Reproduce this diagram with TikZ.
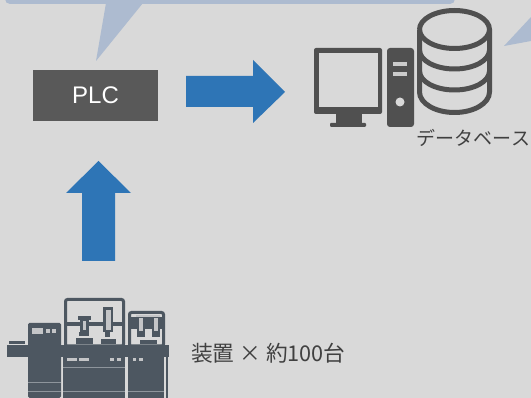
\documentclass[tikz,border=0pt]{standalone}
\usepackage{fontspec}
\setmainfont{Liberation Sans}
\newfontfamily\jpfont{Noto Sans CJK JP}
\definecolor{bgc}{HTML}{D9D9D9}
\definecolor{callout}{HTML}{ADBBD0}
\definecolor{darkbox}{HTML}{595959}
\definecolor{arrowblue}{HTML}{2E75B6}
\definecolor{icon}{HTML}{505050}
\definecolor{mach}{HTML}{4D5761}
\definecolor{machl}{HTML}{8E959C}
\tikzset{
  x=1pt,y=-1pt,
  bubble/.style={fill=callout,draw=none},
  flow/.style={fill=arrowblue,draw=none},
  icoline/.style={draw=icon,line width=5pt,fill=none},
  icofill/.style={fill=icon,draw=none},
  machfill/.style={fill=mach,draw=none},
  machlight/.style={fill=bgc!85!mach,draw=none},
  machframe/.style={draw=mach,line width=3pt,fill=none,rounded corners=2pt},
  machrule/.style={draw=machl,line width=0.8pt},
}
\begin{document}
\begin{tikzpicture}
\useasboundingbox (0,0) rectangle (531,398);
\fill[bgc] (0,0) rectangle (531,398);
% callouts
\fill[bubble,rounded corners=5pt] (5,-20) rectangle (455,4);
\fill[bubble] (106,3) -- (143,3) -- (96,61) -- cycle;
\fill[bubble] (504,46) -- (531,17) -- (531,41) -- cycle;
% PLC
\node[fill=darkbox,text=white,minimum width=125pt,minimum height=51pt,inner sep=0pt,font=\fontsize{24}{24}\selectfont] (plc) at (95.5,95.5) {PLC};
% arrows
\fill[flow] (186,76) -- (253,76) -- (253,60) -- (285,92) -- (253,123) -- (253,107) -- (186,107) -- cycle;
\fill[flow] (82,261) -- (82,193) -- (66,193) -- (98.5,161) -- (131,193) -- (115,193) -- (115,261) -- cycle;
% monitor
\fill[icofill,rounded corners=2pt] (314,48) rectangle (382,114);
\fill[bgc] (319,53) rectangle (378,107);
\fill[icofill] (336,113) rectangle (362,124);
\fill[icofill,rounded corners=1pt] (330,123) rectangle (366,127);
% tower
\fill[icofill,rounded corners=3pt] (387,48) rectangle (414,127);
\fill[bgc!90!icon] (393,62) rectangle (407,66);
\fill[bgc!90!icon] (393,72) rectangle (407,76);
\fill[bgc] (400,102) circle (4.5);
% database
\draw[icoline] (419.5,29.5) arc[start angle=180,end angle=-180,x radius=35,y radius=19];
\draw[icoline] (419.5,29.5) -- (419.5,92) arc[start angle=180,end angle=0,x radius=35,y radius=20.5] -- (489.5,29.5);
\draw[icoline] (419.5,50) arc[start angle=180,end angle=0,x radius=35,y radius=19];
\draw[icoline] (419.5,71) arc[start angle=180,end angle=0,x radius=35,y radius=19];
\node[text=black!75,inner sep=0pt,font=\jpfont\fontsize{19}{19}\selectfont] (dblabel) at (473.5,138) {データベース};
% machine: base bar and left cabinet
\fill[machfill] (7,345) rectangle (169,357);
\fill[machfill] (9,341) rectangle (25,344);
\fill[machfill,rounded corners=1.5pt] (28,323) rectangle (61,398);
\fill[machlight] (32,328) rectangle (43,334);
\fill[machlight] (46,329.5) rectangle (50,333);
\fill[machlight] (52,329.5) rectangle (56,333);
\draw[machrule] (28,382) -- (61,382);
\draw[machrule] (28,391) -- (61,391);
% lower cabinets
\fill[machfill] (63,357) rectangle (125,398);
\fill[machfill] (128,357) rectangle (164,398);
\fill[machfill] (165.5,357) rectangle (168,398);
\fill[machlight] (67,358) rectangle (77,361);
\fill[machlight] (79,358) rectangle (89,361);
\fill[machlight] (110,358) rectangle (114,361);
\fill[machlight] (117,358) rectangle (121,361);
\fill[machlight] (133,358) rectangle (136,361);
\fill[machlight] (139,358) rectangle (143,361);
\draw[machrule] (63,367) -- (125,367);
\draw[machrule] (63,391.5) -- (125,391.5);
\draw[machrule] (128,391) -- (164,391);
% middle frame
\draw[machframe] (65.5,299.5) -- (123.5,299.5) -- (123.5,346) -- (65.5,346) -- cycle;
\fill[machfill] (66,322) rectangle (122,326);
\fill[machfill] (76,338) rectangle (93,344.5);
\fill[machfill] (101,339) rectangle (116,344.5);
\fill[machfill] (78,316) rectangle (91,320);
\fill[machfill] (80,320) rectangle (89,332);
\fill[machlight] (83,321) rectangle (86,330);
\fill[machfill] (79,332) rectangle (89,336);
\fill[machfill] (103,307) rectangle (113,332);
\fill[machlight] (105.5,310) rectangle (110.5,330);
\fill[machfill] (105,332) rectangle (110,337);
% right frame
\draw[machframe] (129.5,312.5) -- (163.5,312.5) -- (163.5,346) -- (129.5,346) -- cycle;
\fill[machfill] (131,317) rectangle (162,329);
\fill[machlight] (136,315.5) rectangle (160,317.5);
\fill[machfill] (137,317) rectangle (145,337);
\fill[machlight] (139,318.5) rectangle (143,331);
\fill[machfill] (152,317) rectangle (160,337);
\fill[machlight] (154,318.5) rectangle (158,331);
\fill[machfill] (140,340) rectangle (157,344.5);
\node[anchor=west,text=black!75,inner sep=0pt,font=\jpfont\fontsize{21.7}{22}\selectfont] (devlabel) at (191,353) {装置 × 約100台};
\end{tikzpicture}
\end{document}
